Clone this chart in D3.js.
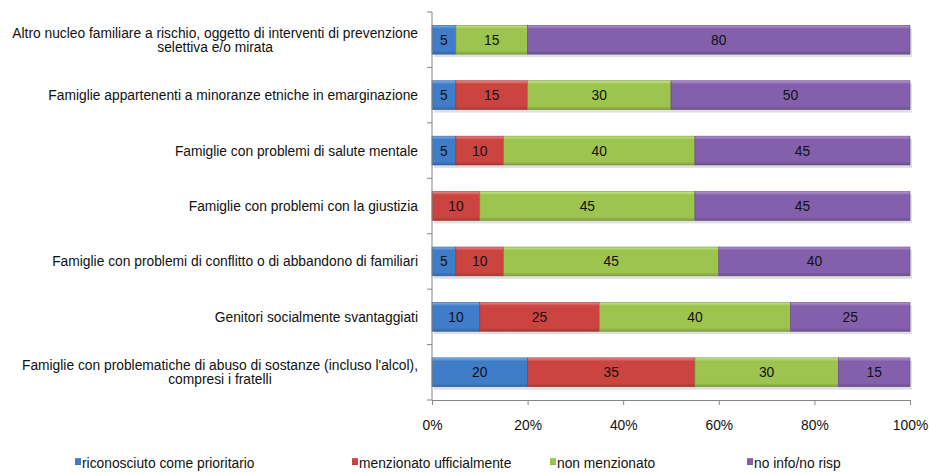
<!DOCTYPE html>
<html><head><meta charset="utf-8">
<script src="https://cdn.jsdelivr.net/npm/d3@7"></script>
<style>body{margin:0;background:#fff}svg{display:block}text{font-family:"Liberation Sans",Arial,sans-serif}</style>
</head><body><svg id="c" width="929" height="472"></svg>
<script>
const categories = [
  ["Altro nucleo familiare a rischio, oggetto di interventi di prevenzione","selettiva e/o mirata"],
  ["Famiglie appartenenti a minoranze etniche in emarginazione"],
  ["Famiglie con problemi di salute mentale"],
  ["Famiglie con problemi con la giustizia"],
  ["Famiglie con problemi di conflitto o di abbandono di familiari"],
  ["Genitori socialmente svantaggiati"],
  ["Famiglie con problematiche di abuso di sostanze (incluso l'alcol),","compresi i fratelli"]
];
const seriesNames = ["riconosciuto come prioritario","menzionato ufficialmente","non menzionato","no info/no risp"];
const riconosciuto = [5,5,5,0,5,10,20];
const menzionato   = [0,15,10,10,10,25,35];
const nonMenzionato= [15,30,40,45,45,40,30];
const noInfo       = [80,50,45,45,40,25,15];
const tickLabels = ["0%","20%","40%","60%","80%","100%"];
const colors = ["#3F7DC8","#CC4440","#9CC44E","#8460AC"];
const light  = ["#7FB0E8","#EE8A86","#C8E48A","#B497D6"];

const FS = 13.8;
const svg = d3.select("#c");
const x0 = 432, x1 = 910, yTop = 12, yBot = 400;
const x = d3.scaleLinear().domain([0,100]).range([x0,x1]);
const y = d3.scaleBand().domain(d3.range(categories.length)).range([yTop,yBot]).paddingInner(0.48).paddingOuter(0.24);

const defs = svg.append("defs");
colors.forEach((c,i)=>{
  const g = defs.append("linearGradient").attr("id","g"+i).attr("x1",0).attr("y1",0).attr("x2",0).attr("y2",1);
  g.append("stop").attr("offset","0").attr("stop-color",light[i]);
  g.append("stop").attr("offset","0.12").attr("stop-color",c);
  g.append("stop").attr("offset","0.88").attr("stop-color",c);
  g.append("stop").attr("offset","1").attr("stop-color",d3.color(c).darker(0.6));
});

const series = [riconosciuto, menzionato, nonMenzionato, noInfo];
const rows = categories.map((c,i)=>{ const o={i}; series.forEach((s,k)=>o["s"+k]=s[i]); return o; });
const stack = d3.stack().keys(["s0","s1","s2","s3"])(rows);

// shadow
svg.append("g").selectAll("rect").data(rows).join("rect")
  .attr("x", d=>x(0)+2).attr("y", d=>y(d.i)+3).attr("width", x(100)-x(0)).attr("height", y.bandwidth())
  .attr("fill","#000").attr("opacity",0.12);

stack.forEach((layer,k)=>{
  const g = svg.append("g");
  layer.forEach((d,i)=>{
    const w = x(d[1])-x(d[0]);
    if (w<=0) return;
    g.append("rect").attr("x",x(d[0])).attr("y",y(i)).attr("width",w).attr("height",y.bandwidth())
      .attr("fill","url(#g"+k+")").attr("stroke",d3.color(colors[k]).darker(0.8)).attr("stroke-width",0.6);
    g.append("text").attr("x",(x(d[0])+x(d[1]))/2).attr("y",y(i)+y.bandwidth()/2+5)
      .attr("text-anchor","middle").attr("font-size",FS).attr("fill","#111").text(d[1]-d[0]);
  });
});

// axes
const axisColor = "#868686";
const gy = svg.append("g");
gy.append("line").attr("x1",x0).attr("x2",x0).attr("y1",yTop).attr("y2",yBot).attr("stroke",axisColor);
const step = (yBot-yTop)/categories.length;
d3.range(categories.length+1).forEach(j=>{
  gy.append("line").attr("x1",x0-5).attr("x2",x0).attr("y1",yTop+j*step).attr("y2",yTop+j*step).attr("stroke",axisColor);
});
const gx = svg.append("g").attr("transform",`translate(0,${yBot})`)
  .call(d3.axisBottom(x).tickValues([0,20,40,60,80,100]).tickSize(5).tickPadding(15).tickFormat((d,i)=>tickLabels[i]));
gx.select(".domain").attr("stroke",axisColor);
gx.selectAll(".tick line").attr("stroke",axisColor);
gx.selectAll(".tick text").attr("font-size",FS).attr("fill","#111").attr("font-family","Liberation Sans, Arial, sans-serif");

// category labels
const labelRight = 418;
categories.forEach((lines,i)=>{
  const cy = y(i)+y.bandwidth()/2;
  const t = svg.append("text").attr("font-size",FS).attr("fill","#111").attr("text-anchor","middle");
  const spans = lines.map((l,j)=>t.append("tspan").text(l));
  const maxW = d3.max(spans, s=>s.node().getComputedTextLength());
  const cx = labelRight - maxW/2;
  const lh = 14;
  spans.forEach((s,j)=>s.attr("x",cx).attr("y",cy+5+(j-(lines.length-1)/2)*lh));
});

// legend
const legX = [75,352,550,747];
seriesNames.forEach((n,k)=>{
  const g = svg.append("g").attr("transform",`translate(${legX[k]},468)`);
  g.append("rect").attr("x",0).attr("y",-10).attr("width",6).attr("height",7).attr("fill","url(#g"+k+")");
  g.append("text").attr("x",7).attr("y",0).attr("font-size",FS).attr("fill","#111").text(n);
});
</script></body></html>
